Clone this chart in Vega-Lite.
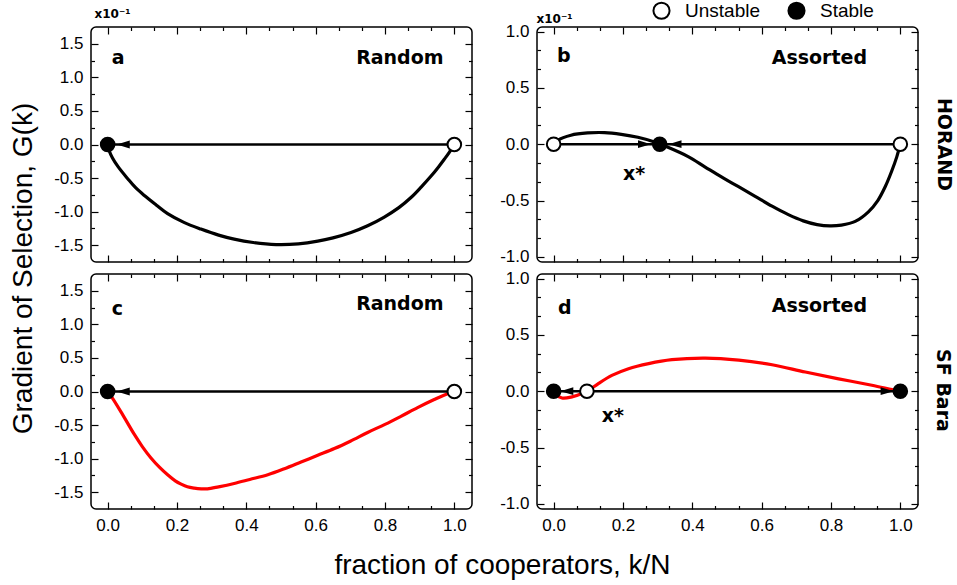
{
  "$schema": "https://vega.github.io/schema/vega-lite/v6.json",
  "background": "white",
  "padding": {"left": 8, "top": 1, "right": 6, "bottom": 4},
  "datasets": {
    "curves": [
      {"panel":"a","x":0,"y":0},{"panel":"a","x":0.005,"y":-0.1},{"panel":"a","x":0.014,"y":-0.2},{"panel":"a","x":0.03,"y":-0.33},{"panel":"a","x":0.058,"y":-0.51},{"panel":"a","x":0.08,"y":-0.64},{"panel":"a","x":0.106,"y":-0.76},{"panel":"a","x":0.14,"y":-0.9},{"panel":"a","x":0.173,"y":-1.03},{"panel":"a","x":0.22,"y":-1.16},{"panel":"a","x":0.269,"y":-1.26},{"panel":"a","x":0.32,"y":-1.35},{"panel":"a","x":0.365,"y":-1.41},{"panel":"a","x":0.42,"y":-1.46},{"panel":"a","x":0.486,"y":-1.49},{"panel":"a","x":0.55,"y":-1.48},{"panel":"a","x":0.606,"y":-1.44},{"panel":"a","x":0.65,"y":-1.39},{"panel":"a","x":0.702,"y":-1.31},{"panel":"a","x":0.75,"y":-1.21},{"panel":"a","x":0.798,"y":-1.08},{"panel":"a","x":0.84,"y":-0.94},{"panel":"a","x":0.875,"y":-0.79},{"panel":"a","x":0.905,"y":-0.63},{"panel":"a","x":0.933,"y":-0.47},{"panel":"a","x":0.955,"y":-0.33},{"panel":"a","x":0.971,"y":-0.22},{"panel":"a","x":0.985,"y":-0.12},{"panel":"a","x":1,"y":0},
      {"panel":"b","x":0,"y":0},{"panel":"b","x":0.012,"y":0.035},{"panel":"b","x":0.05,"y":0.08},{"panel":"b","x":0.098,"y":0.1},{"panel":"b","x":0.147,"y":0.103},{"panel":"b","x":0.195,"y":0.088},{"panel":"b","x":0.243,"y":0.062},{"panel":"b","x":0.291,"y":0.02},{"panel":"b","x":0.32,"y":-0.015},{"panel":"b","x":0.388,"y":-0.11},{"panel":"b","x":0.436,"y":-0.2},{"panel":"b","x":0.484,"y":-0.29},{"panel":"b","x":0.532,"y":-0.375},{"panel":"b","x":0.58,"y":-0.46},{"panel":"b","x":0.63,"y":-0.55},{"panel":"b","x":0.677,"y":-0.625},{"panel":"b","x":0.72,"y":-0.68},{"panel":"b","x":0.76,"y":-0.713},{"panel":"b","x":0.797,"y":-0.725},{"panel":"b","x":0.83,"y":-0.718},{"panel":"b","x":0.87,"y":-0.685},{"panel":"b","x":0.908,"y":-0.6},{"panel":"b","x":0.935,"y":-0.5},{"panel":"b","x":0.956,"y":-0.38},{"panel":"b","x":0.975,"y":-0.24},{"panel":"b","x":0.99,"y":-0.11},{"panel":"b","x":1,"y":0},
      {"panel":"c","x":0,"y":0},{"panel":"c","x":0.01,"y":-0.07},{"panel":"c","x":0.038,"y":-0.3},{"panel":"c","x":0.077,"y":-0.64},{"panel":"c","x":0.1,"y":-0.82},{"panel":"c","x":0.125,"y":-0.99},{"panel":"c","x":0.15,"y":-1.13},{"panel":"c","x":0.173,"y":-1.24},{"panel":"c","x":0.195,"y":-1.33},{"panel":"c","x":0.212,"y":-1.38},{"panel":"c","x":0.23,"y":-1.42},{"panel":"c","x":0.25,"y":-1.44},{"panel":"c","x":0.27,"y":-1.45},{"panel":"c","x":0.288,"y":-1.45},{"panel":"c","x":0.32,"y":-1.42},{"panel":"c","x":0.365,"y":-1.37},{"panel":"c","x":0.41,"y":-1.31},{"panel":"c","x":0.462,"y":-1.24},{"panel":"c","x":0.51,"y":-1.15},{"panel":"c","x":0.558,"y":-1.05},{"panel":"c","x":0.606,"y":-0.95},{"panel":"c","x":0.654,"y":-0.85},{"panel":"c","x":0.7,"y":-0.74},{"panel":"c","x":0.75,"y":-0.61},{"panel":"c","x":0.8,"y":-0.49},{"panel":"c","x":0.846,"y":-0.37},{"panel":"c","x":0.894,"y":-0.24},{"panel":"c","x":0.942,"y":-0.12},{"panel":"c","x":0.97,"y":-0.055},{"panel":"c","x":1,"y":0},
      {"panel":"d","x":0,"y":0},{"panel":"d","x":0.005,"y":-0.025},{"panel":"d","x":0.024,"y":-0.06},{"panel":"d","x":0.053,"y":-0.05},{"panel":"d","x":0.082,"y":-0.02},{"panel":"d","x":0.1,"y":0.006},{"panel":"d","x":0.13,"y":0.07},{"panel":"d","x":0.168,"y":0.14},{"panel":"d","x":0.216,"y":0.2},{"panel":"d","x":0.274,"y":0.245},{"panel":"d","x":0.341,"y":0.28},{"panel":"d","x":0.4375,"y":0.294},{"panel":"d","x":0.534,"y":0.276},{"panel":"d","x":0.63,"y":0.235},{"panel":"d","x":0.726,"y":0.17},{"panel":"d","x":0.822,"y":0.11},{"panel":"d","x":0.918,"y":0.053},{"panel":"d","x":0.976,"y":0.015},{"panel":"d","x":1,"y":0}
    ],
    "flows": [
      {"panel":"a","from":0,"to":1,"g":0},
      {"panel":"b","from":0,"to":0.306,"g":0},{"panel":"b","from":0.306,"to":1,"g":0},
      {"panel":"c","from":0,"to":1,"g":0},
      {"panel":"d","from":0,"to":0.096,"g":0},{"panel":"d","from":0.096,"to":1,"g":0}
    ],
    "heads": [
      {"panel":"a","x":0.045,"g":0,"dir":"left"},
      {"panel":"b","x":0.262,"g":0,"dir":"right"},{"panel":"b","x":0.35,"g":0,"dir":"left"},
      {"panel":"c","x":0.045,"g":0,"dir":"left"},
      {"panel":"d","x":0.038,"g":0,"dir":"left"},{"panel":"d","x":0.962,"g":0,"dir":"right"}
    ],
    "fixed": [
      {"panel":"a","x":0,"g":0,"type":"Stable"},{"panel":"a","x":1,"g":0,"type":"Unstable"},
      {"panel":"b","x":0,"g":0,"type":"Unstable"},{"panel":"b","x":0.306,"g":0,"type":"Stable"},{"panel":"b","x":1,"g":0,"type":"Unstable"},
      {"panel":"c","x":0,"g":0,"type":"Stable"},{"panel":"c","x":1,"g":0,"type":"Unstable"},
      {"panel":"d","x":0,"g":0,"type":"Stable"},{"panel":"d","x":0.096,"g":0,"type":"Unstable"},{"panel":"d","x":1,"g":0,"type":"Stable"}
    ],
    "labels": [
      {"panel":"a","x":0.0115,"y":1.2,"text":"a","role":"letter"},{"panel":"a","x":0.969,"y":1.2,"text":"Random","role":"scheme"},
      {"panel":"b","x":0.0096,"y":0.727,"text":"b","role":"letter"},{"panel":"b","x":0.904,"y":0.709,"text":"Assorted","role":"scheme"},{"panel":"b","x":0.2,"y":-0.32,"text":"x*","role":"root"},
      {"panel":"c","x":0.0115,"y":1.14,"text":"c","role":"letter"},{"panel":"c","x":0.969,"y":1.21,"text":"Random","role":"scheme"},
      {"panel":"d","x":0.0125,"y":0.685,"text":"d","role":"letter"},{"panel":"d","x":0.904,"y":0.706,"text":"Assorted","role":"scheme"},{"panel":"d","x":0.139,"y":-0.27,"text":"x*","role":"root"}
    ]
  },
  "columns": 2,
  "bounds": "flush",
  "spacing": {"row": 12, "column": 65},
  "resolve": {"scale": {"x": "independent", "y": "independent"}, "axis": {"x": "independent", "y": "independent"}},
  "concat": [
    {
      "width": 381, "height": 235,
      "resolve": {"axis": {"x": "independent", "y": "independent"}},
      "layer": [
        {"data": {"name": "curves"}, "transform": [{"filter": "datum.panel === 'a'"}],
         "mark": {"type": "line", "color": "black", "strokeWidth": 3.2, "interpolate": "catmull-rom"},
         "encoding": {
           "x": {"field": "x", "type": "quantitative", "scale": {"domain": [-0.048, 1.051], "nice": false, "zero": false},
                 "axis": {"orient": "bottom", "values": [0, 0.2, 0.4, 0.6, 0.8, 1], "labels": false, "tickSize": -7, "title": null}},
           "y": {"field": "y", "type": "quantitative", "scale": {"domain": [-1.75, 1.75], "nice": false, "zero": false},
                 "axis": {"orient": "left", "values": [-1.5, -1, -0.5, 0, 0.5, 1, 1.5], "tickSize": -7, "labelPadding": 15,
                          "labelExpr": "(datum.value < 0 ? '-' : '') + format(abs(datum.value), '.1f')",
                          "title": "x10⁻¹", "titleFont": "DejaVu Sans", "titleFontWeight": "bold", "titleFontSize": 12,
                          "titleAngle": 0, "titleAlign": "left", "titleBaseline": "alphabetic", "titleX": 3, "titleY": -10}}
         }},
        {"data": {"name": "flows"}, "transform": [{"filter": "datum.panel === 'a'"}],
         "mark": {"type": "rule", "color": "black", "strokeWidth": 2.5},
         "encoding": {
           "x": {"field": "from", "type": "quantitative", "scale": {"domain": [-0.048, 1.051], "nice": false, "zero": false},
                 "axis": {"orient": "top", "values": [0, 0.2, 0.4, 0.6, 0.8, 1], "labels": false, "tickSize": -7, "title": null}},
           "x2": {"field": "to"},
           "y": {"field": "g", "type": "quantitative", "scale": {"domain": [-1.75, 1.75], "nice": false, "zero": false},
                 "axis": {"orient": "right", "values": [-1.5, -1, -0.5, 0, 0.5, 1, 1.5], "labels": false, "tickSize": -7, "title": null}}
         }},
        {"data": {"name": "heads"}, "transform": [{"filter": "datum.panel === 'a'"}],
         "mark": {"type": "point", "filled": true, "color": "black", "size": 169, "opacity": 1},
         "encoding": {
           "x": {"field": "x", "type": "quantitative", "scale": {"domain": [-0.048, 1.051], "nice": false, "zero": false},
                 "axis": {"orient": "bottom", "values": [0.0667, 0.1333, 0.2667, 0.3333, 0.4667, 0.5333, 0.6667, 0.7333, 0.8667, 0.9333], "labels": false, "tickSize": -3.5, "title": null}},
           "y": {"field": "g", "type": "quantitative", "scale": {"domain": [-1.75, 1.75], "nice": false, "zero": false},
                 "axis": {"orient": "left", "values": [-1.25, -0.75, -0.25, 0.25, 0.75, 1.25], "labels": false, "tickSize": -3.5,
                          "title": "Gradient of Selection, G(k)", "titleFont": "Liberation Sans", "titleFontWeight": "normal", "titleFontSize": 28,
                          "titleAngle": 270, "titleAlign": "center", "titleBaseline": "alphabetic", "titleX": -60, "titleY": 241}},
           "shape": {"field": "dir", "type": "nominal", "scale": {"domain": ["left", "right"], "range": ["M-1,0L1,-0.6L1,0.6Z", "M1,0L-1,-0.6L-1,0.6Z"]}, "legend": null}
         }},
        {"data": {"name": "fixed"}, "transform": [{"filter": "datum.panel === 'a'"}],
         "mark": {"type": "point", "filled": true, "stroke": "black", "strokeWidth": 2, "size": 185, "opacity": 1},
         "encoding": {
           "x": {"field": "x", "type": "quantitative", "scale": {"domain": [-0.048, 1.051], "nice": false, "zero": false},
                 "axis": {"orient": "top", "values": [0.0667, 0.1333, 0.2667, 0.3333, 0.4667, 0.5333, 0.6667, 0.7333, 0.8667, 0.9333], "labels": false, "tickSize": -3.5, "title": null}},
           "y": {"field": "g", "type": "quantitative", "scale": {"domain": [-1.75, 1.75], "nice": false, "zero": false},
                 "axis": {"orient": "right", "values": [-1.25, -0.75, -0.25, 0.25, 0.75, 1.25], "labels": false, "tickSize": -3.5, "title": null}},
           "fill": {"field": "type", "type": "nominal", "scale": {"domain": ["Unstable", "Stable"], "range": ["white", "black"]},
                    "legend": {"title": null, "orient": "none", "legendX": 561, "legendY": -26, "direction": "horizontal", "symbolType": "circle", "symbolSize": 260, "symbolStrokeColor": "black", "symbolStrokeWidth": 2, "labelFont": "Liberation Sans", "labelFontSize": 19, "labelColor": "black", "labelOffset": 14, "columnPadding": 24, "padding": 0}}
         }},
        {"data": {"name": "labels"}, "transform": [{"filter": "datum.panel === 'a' && datum.role === 'letter'"}],
         "mark": {"type": "text", "font": "DejaVu Sans", "fontWeight": "bold", "fontSize": 19, "align": "left", "baseline": "alphabetic", "color": "black"},
         "encoding": {"x": {"field": "x", "type": "quantitative", "axis": null}, "y": {"field": "y", "type": "quantitative", "axis": null}, "text": {"field": "text"}}},
        {"data": {"name": "labels"}, "transform": [{"filter": "datum.panel === 'a' && datum.role === 'scheme'"}],
         "mark": {"type": "text", "font": "DejaVu Sans", "fontWeight": "bold", "fontSize": 19, "align": "right", "baseline": "alphabetic", "color": "black"},
         "encoding": {"x": {"field": "x", "type": "quantitative", "axis": null}, "y": {"field": "y", "type": "quantitative", "axis": null}, "text": {"field": "text"}}}
      ]
    },
    {
      "width": 381, "height": 235,
      "resolve": {"axis": {"x": "independent", "y": "independent"}},
      "layer": [
        {"data": {"name": "curves"}, "transform": [{"filter": "datum.panel === 'b'"}],
         "mark": {"type": "line", "color": "black", "strokeWidth": 3.2, "interpolate": "catmull-rom"},
         "encoding": {
           "x": {"field": "x", "type": "quantitative", "scale": {"domain": [-0.048, 1.051], "nice": false, "zero": false},
                 "axis": {"orient": "bottom", "values": [0, 0.2, 0.4, 0.6, 0.8, 1], "labels": false, "tickSize": -7, "title": null}},
           "y": {"field": "y", "type": "quantitative", "scale": {"domain": [-1.045, 1.04], "nice": false, "zero": false},
                 "axis": {"orient": "left", "values": [-1, -0.5, 0, 0.5, 1], "tickSize": -7, "labelPadding": 15,
                          "labelExpr": "(datum.value < 0 ? '-' : '') + format(abs(datum.value), '.1f')",
                          "title": "x10⁻¹", "titleFont": "DejaVu Sans", "titleFontWeight": "bold", "titleFontSize": 12,
                          "titleAngle": 0, "titleAlign": "left", "titleBaseline": "alphabetic", "titleX": -1, "titleY": -5}}
         }},
        {"data": {"name": "flows"}, "transform": [{"filter": "datum.panel === 'b'"}],
         "mark": {"type": "rule", "color": "black", "strokeWidth": 2.5},
         "encoding": {
           "x": {"field": "from", "type": "quantitative", "scale": {"domain": [-0.048, 1.051], "nice": false, "zero": false},
                 "axis": {"orient": "top", "values": [0, 0.2, 0.4, 0.6, 0.8, 1], "labels": false, "tickSize": -7, "title": null}},
           "x2": {"field": "to"},
           "y": {"field": "g", "type": "quantitative", "scale": {"domain": [-1.045, 1.04], "nice": false, "zero": false},
                 "axis": {"orient": "right", "values": [-1, -0.5, 0, 0.5, 1], "labels": false, "tickSize": -7, "title": null}}
         }},
        {"data": {"name": "heads"}, "transform": [{"filter": "datum.panel === 'b'"}],
         "mark": {"type": "point", "filled": true, "color": "black", "size": 169, "opacity": 1},
         "encoding": {
           "x": {"field": "x", "type": "quantitative", "scale": {"domain": [-0.048, 1.051], "nice": false, "zero": false},
                 "axis": {"orient": "bottom", "values": [0.0667, 0.1333, 0.2667, 0.3333, 0.4667, 0.5333, 0.6667, 0.7333, 0.8667, 0.9333], "labels": false, "tickSize": -3.5, "title": null}},
           "y": {"field": "g", "type": "quantitative", "scale": {"domain": [-1.045, 1.04], "nice": false, "zero": false},
                 "axis": {"orient": "left", "values": [-0.8333, -0.6667, -0.3333, -0.1667, 0.1667, 0.3333, 0.6667, 0.8333], "labels": false, "tickSize": -3.5, "title": null}},
           "shape": {"field": "dir", "type": "nominal", "scale": {"domain": ["left", "right"], "range": ["M-1,0L1,-0.6L1,0.6Z", "M1,0L-1,-0.6L-1,0.6Z"]}, "legend": null}
         }},
        {"data": {"name": "fixed"}, "transform": [{"filter": "datum.panel === 'b'"}],
         "mark": {"type": "point", "filled": true, "stroke": "black", "strokeWidth": 2, "size": 185, "opacity": 1},
         "encoding": {
           "x": {"field": "x", "type": "quantitative", "scale": {"domain": [-0.048, 1.051], "nice": false, "zero": false},
                 "axis": {"orient": "top", "values": [0.0667, 0.1333, 0.2667, 0.3333, 0.4667, 0.5333, 0.6667, 0.7333, 0.8667, 0.9333], "labels": false, "tickSize": -3.5, "title": null}},
           "y": {"field": "g", "type": "quantitative", "scale": {"domain": [-1.045, 1.04], "nice": false, "zero": false},
                 "axis": {"orient": "right", "values": [-0.8333, -0.6667, -0.3333, -0.1667, 0.1667, 0.3333, 0.6667, 0.8333], "labels": false, "tickSize": -3.5,
                          "title": "HORAND", "titleFont": "DejaVu Sans", "titleFontWeight": "bold", "titleFontSize": 19,
                          "titleAngle": 90, "titleAlign": "center", "titleBaseline": "middle", "titleX": 25, "titleY": 117}},
           "fill": {"field": "type", "type": "nominal", "scale": {"domain": ["Unstable", "Stable"], "range": ["white", "black"]},
                    "legend": {"title": null, "orient": "none", "legendX": 561, "legendY": -26, "direction": "horizontal", "symbolType": "circle", "symbolSize": 260, "symbolStrokeColor": "black", "symbolStrokeWidth": 2, "labelFont": "Liberation Sans", "labelFontSize": 19, "labelColor": "black", "labelOffset": 14, "columnPadding": 24, "padding": 0}}
         }},
        {"data": {"name": "labels"}, "transform": [{"filter": "datum.panel === 'b' && datum.role !== 'scheme'"}],
         "mark": {"type": "text", "font": "DejaVu Sans", "fontWeight": "bold", "fontSize": 19, "align": "left", "baseline": "alphabetic", "color": "black"},
         "encoding": {"x": {"field": "x", "type": "quantitative", "axis": null}, "y": {"field": "y", "type": "quantitative", "axis": null}, "text": {"field": "text"}}},
        {"data": {"name": "labels"}, "transform": [{"filter": "datum.panel === 'b' && datum.role === 'scheme'"}],
         "mark": {"type": "text", "font": "DejaVu Sans", "fontWeight": "bold", "fontSize": 19, "align": "right", "baseline": "alphabetic", "color": "black"},
         "encoding": {"x": {"field": "x", "type": "quantitative", "axis": null}, "y": {"field": "y", "type": "quantitative", "axis": null}, "text": {"field": "text"}}}
      ]
    },
    {
      "width": 381, "height": 235,
      "resolve": {"axis": {"x": "independent", "y": "independent"}},
      "layer": [
        {"data": {"name": "curves"}, "transform": [{"filter": "datum.panel === 'c'"}],
         "mark": {"type": "line", "color": "#ff0000", "strokeWidth": 3.2, "interpolate": "catmull-rom"},
         "encoding": {
           "x": {"field": "x", "type": "quantitative", "scale": {"domain": [-0.048, 1.051], "nice": false, "zero": false},
                 "axis": {"orient": "bottom", "values": [0, 0.2, 0.4, 0.6, 0.8, 1], "tickSize": -7, "labelPadding": 15, "format": ".1f", "title": null}},
           "y": {"field": "y", "type": "quantitative", "scale": {"domain": [-1.75, 1.75], "nice": false, "zero": false},
                 "axis": {"orient": "left", "values": [-1.5, -1, -0.5, 0, 0.5, 1, 1.5], "tickSize": -7, "labelPadding": 15,
                          "labelExpr": "(datum.value < 0 ? '-' : '') + format(abs(datum.value), '.1f')", "title": null}}
         }},
        {"data": {"name": "flows"}, "transform": [{"filter": "datum.panel === 'c'"}],
         "mark": {"type": "rule", "color": "black", "strokeWidth": 2.5},
         "encoding": {
           "x": {"field": "from", "type": "quantitative", "scale": {"domain": [-0.048, 1.051], "nice": false, "zero": false},
                 "axis": {"orient": "top", "values": [0, 0.2, 0.4, 0.6, 0.8, 1], "labels": false, "tickSize": -7, "title": null}},
           "x2": {"field": "to"},
           "y": {"field": "g", "type": "quantitative", "scale": {"domain": [-1.75, 1.75], "nice": false, "zero": false},
                 "axis": {"orient": "right", "values": [-1.5, -1, -0.5, 0, 0.5, 1, 1.5], "labels": false, "tickSize": -7, "title": null}}
         }},
        {"data": {"name": "heads"}, "transform": [{"filter": "datum.panel === 'c'"}],
         "mark": {"type": "point", "filled": true, "color": "black", "size": 169, "opacity": 1},
         "encoding": {
           "x": {"field": "x", "type": "quantitative", "scale": {"domain": [-0.048, 1.051], "nice": false, "zero": false},
                 "axis": {"orient": "bottom", "values": [0.0667, 0.1333, 0.2667, 0.3333, 0.4667, 0.5333, 0.6667, 0.7333, 0.8667, 0.9333], "labels": false, "tickSize": -3.5,
                          "title": "fraction of cooperators, k/N", "titleFont": "Liberation Sans", "titleFontWeight": "normal", "titleFontSize": 28,
                          "titleAngle": 0, "titleAlign": "center", "titleBaseline": "alphabetic", "titleX": 411, "titleY": 64}},
           "y": {"field": "g", "type": "quantitative", "scale": {"domain": [-1.75, 1.75], "nice": false, "zero": false},
                 "axis": {"orient": "left", "values": [-1.25, -0.75, -0.25, 0.25, 0.75, 1.25], "labels": false, "tickSize": -3.5, "title": null}},
           "shape": {"field": "dir", "type": "nominal", "scale": {"domain": ["left", "right"], "range": ["M-1,0L1,-0.6L1,0.6Z", "M1,0L-1,-0.6L-1,0.6Z"]}, "legend": null}
         }},
        {"data": {"name": "fixed"}, "transform": [{"filter": "datum.panel === 'c'"}],
         "mark": {"type": "point", "filled": true, "stroke": "black", "strokeWidth": 2, "size": 185, "opacity": 1},
         "encoding": {
           "x": {"field": "x", "type": "quantitative", "scale": {"domain": [-0.048, 1.051], "nice": false, "zero": false},
                 "axis": {"orient": "top", "values": [0.0667, 0.1333, 0.2667, 0.3333, 0.4667, 0.5333, 0.6667, 0.7333, 0.8667, 0.9333], "labels": false, "tickSize": -3.5, "title": null}},
           "y": {"field": "g", "type": "quantitative", "scale": {"domain": [-1.75, 1.75], "nice": false, "zero": false},
                 "axis": {"orient": "right", "values": [-1.25, -0.75, -0.25, 0.25, 0.75, 1.25], "labels": false, "tickSize": -3.5, "title": null}},
           "fill": {"field": "type", "type": "nominal", "scale": {"domain": ["Unstable", "Stable"], "range": ["white", "black"]},
                    "legend": {"title": null, "orient": "none", "legendX": 561, "legendY": -26, "direction": "horizontal", "symbolType": "circle", "symbolSize": 260, "symbolStrokeColor": "black", "symbolStrokeWidth": 2, "labelFont": "Liberation Sans", "labelFontSize": 19, "labelColor": "black", "labelOffset": 14, "columnPadding": 24, "padding": 0}}
         }},
        {"data": {"name": "labels"}, "transform": [{"filter": "datum.panel === 'c' && datum.role === 'letter'"}],
         "mark": {"type": "text", "font": "DejaVu Sans", "fontWeight": "bold", "fontSize": 19, "align": "left", "baseline": "alphabetic", "color": "black"},
         "encoding": {"x": {"field": "x", "type": "quantitative", "axis": null}, "y": {"field": "y", "type": "quantitative", "axis": null}, "text": {"field": "text"}}},
        {"data": {"name": "labels"}, "transform": [{"filter": "datum.panel === 'c' && datum.role === 'scheme'"}],
         "mark": {"type": "text", "font": "DejaVu Sans", "fontWeight": "bold", "fontSize": 19, "align": "right", "baseline": "alphabetic", "color": "black"},
         "encoding": {"x": {"field": "x", "type": "quantitative", "axis": null}, "y": {"field": "y", "type": "quantitative", "axis": null}, "text": {"field": "text"}}}
      ]
    },
    {
      "width": 381, "height": 235,
      "resolve": {"axis": {"x": "independent", "y": "independent"}},
      "layer": [
        {"data": {"name": "curves"}, "transform": [{"filter": "datum.panel === 'd'"}],
         "mark": {"type": "line", "color": "#ff0000", "strokeWidth": 3.2, "interpolate": "catmull-rom"},
         "encoding": {
           "x": {"field": "x", "type": "quantitative", "scale": {"domain": [-0.048, 1.051], "nice": false, "zero": false},
                 "axis": {"orient": "bottom", "values": [0, 0.2, 0.4, 0.6, 0.8, 1], "tickSize": -7, "labelPadding": 15, "format": ".1f", "title": null}},
           "y": {"field": "y", "type": "quantitative", "scale": {"domain": [-1.045, 1.04], "nice": false, "zero": false},
                 "axis": {"orient": "left", "values": [-1, -0.5, 0, 0.5, 1], "tickSize": -7, "labelPadding": 15,
                          "labelExpr": "(datum.value < 0 ? '-' : '') + format(abs(datum.value), '.1f')", "title": null}}
         }},
        {"data": {"name": "flows"}, "transform": [{"filter": "datum.panel === 'd'"}],
         "mark": {"type": "rule", "color": "black", "strokeWidth": 2.5},
         "encoding": {
           "x": {"field": "from", "type": "quantitative", "scale": {"domain": [-0.048, 1.051], "nice": false, "zero": false},
                 "axis": {"orient": "top", "values": [0, 0.2, 0.4, 0.6, 0.8, 1], "labels": false, "tickSize": -7, "title": null}},
           "x2": {"field": "to"},
           "y": {"field": "g", "type": "quantitative", "scale": {"domain": [-1.045, 1.04], "nice": false, "zero": false},
                 "axis": {"orient": "right", "values": [-1, -0.5, 0, 0.5, 1], "labels": false, "tickSize": -7, "title": null}}
         }},
        {"data": {"name": "heads"}, "transform": [{"filter": "datum.panel === 'd'"}],
         "mark": {"type": "point", "filled": true, "color": "black", "size": 169, "opacity": 1},
         "encoding": {
           "x": {"field": "x", "type": "quantitative", "scale": {"domain": [-0.048, 1.051], "nice": false, "zero": false},
                 "axis": {"orient": "bottom", "values": [0.0667, 0.1333, 0.2667, 0.3333, 0.4667, 0.5333, 0.6667, 0.7333, 0.8667, 0.9333], "labels": false, "tickSize": -3.5, "title": null}},
           "y": {"field": "g", "type": "quantitative", "scale": {"domain": [-1.045, 1.04], "nice": false, "zero": false},
                 "axis": {"orient": "left", "values": [-0.8333, -0.6667, -0.3333, -0.1667, 0.1667, 0.3333, 0.6667, 0.8333], "labels": false, "tickSize": -3.5, "title": null}},
           "shape": {"field": "dir", "type": "nominal", "scale": {"domain": ["left", "right"], "range": ["M-1,0L1,-0.6L1,0.6Z", "M1,0L-1,-0.6L-1,0.6Z"]}, "legend": null}
         }},
        {"data": {"name": "fixed"}, "transform": [{"filter": "datum.panel === 'd'"}],
         "mark": {"type": "point", "filled": true, "stroke": "black", "strokeWidth": 2, "size": 185, "opacity": 1},
         "encoding": {
           "x": {"field": "x", "type": "quantitative", "scale": {"domain": [-0.048, 1.051], "nice": false, "zero": false},
                 "axis": {"orient": "top", "values": [0.0667, 0.1333, 0.2667, 0.3333, 0.4667, 0.5333, 0.6667, 0.7333, 0.8667, 0.9333], "labels": false, "tickSize": -3.5, "title": null}},
           "y": {"field": "g", "type": "quantitative", "scale": {"domain": [-1.045, 1.04], "nice": false, "zero": false},
                 "axis": {"orient": "right", "values": [-0.8333, -0.6667, -0.3333, -0.1667, 0.1667, 0.3333, 0.6667, 0.8333], "labels": false, "tickSize": -3.5,
                          "title": "SF Bara", "titleFont": "DejaVu Sans", "titleFontWeight": "bold", "titleFontSize": 19,
                          "titleAngle": 90, "titleAlign": "center", "titleBaseline": "middle", "titleX": 24, "titleY": 116}},
           "fill": {"field": "type", "type": "nominal", "scale": {"domain": ["Unstable", "Stable"], "range": ["white", "black"]},
                    "legend": {"title": null, "orient": "none", "legendX": 561, "legendY": -26, "direction": "horizontal", "symbolType": "circle", "symbolSize": 260, "symbolStrokeColor": "black", "symbolStrokeWidth": 2, "labelFont": "Liberation Sans", "labelFontSize": 19, "labelColor": "black", "labelOffset": 14, "columnPadding": 24, "padding": 0}}
         }},
        {"data": {"name": "labels"}, "transform": [{"filter": "datum.panel === 'd' && datum.role !== 'scheme'"}],
         "mark": {"type": "text", "font": "DejaVu Sans", "fontWeight": "bold", "fontSize": 19, "align": "left", "baseline": "alphabetic", "color": "black"},
         "encoding": {"x": {"field": "x", "type": "quantitative", "axis": null}, "y": {"field": "y", "type": "quantitative", "axis": null}, "text": {"field": "text"}}},
        {"data": {"name": "labels"}, "transform": [{"filter": "datum.panel === 'd' && datum.role === 'scheme'"}],
         "mark": {"type": "text", "font": "DejaVu Sans", "fontWeight": "bold", "fontSize": 19, "align": "right", "baseline": "alphabetic", "color": "black"},
         "encoding": {"x": {"field": "x", "type": "quantitative", "axis": null}, "y": {"field": "y", "type": "quantitative", "axis": null}, "text": {"field": "text"}}}
      ]
    }
  ],
  "config": {
    "view": {"stroke": "black", "strokeWidth": 1.5, "cornerRadius": 5},
    "axis": {"domain": false, "grid": false, "tickColor": "black", "tickWidth": 1.2, "labelFont": "Liberation Sans", "labelFontSize": 17, "labelColor": "black", "titleColor": "black"}
  }
}
